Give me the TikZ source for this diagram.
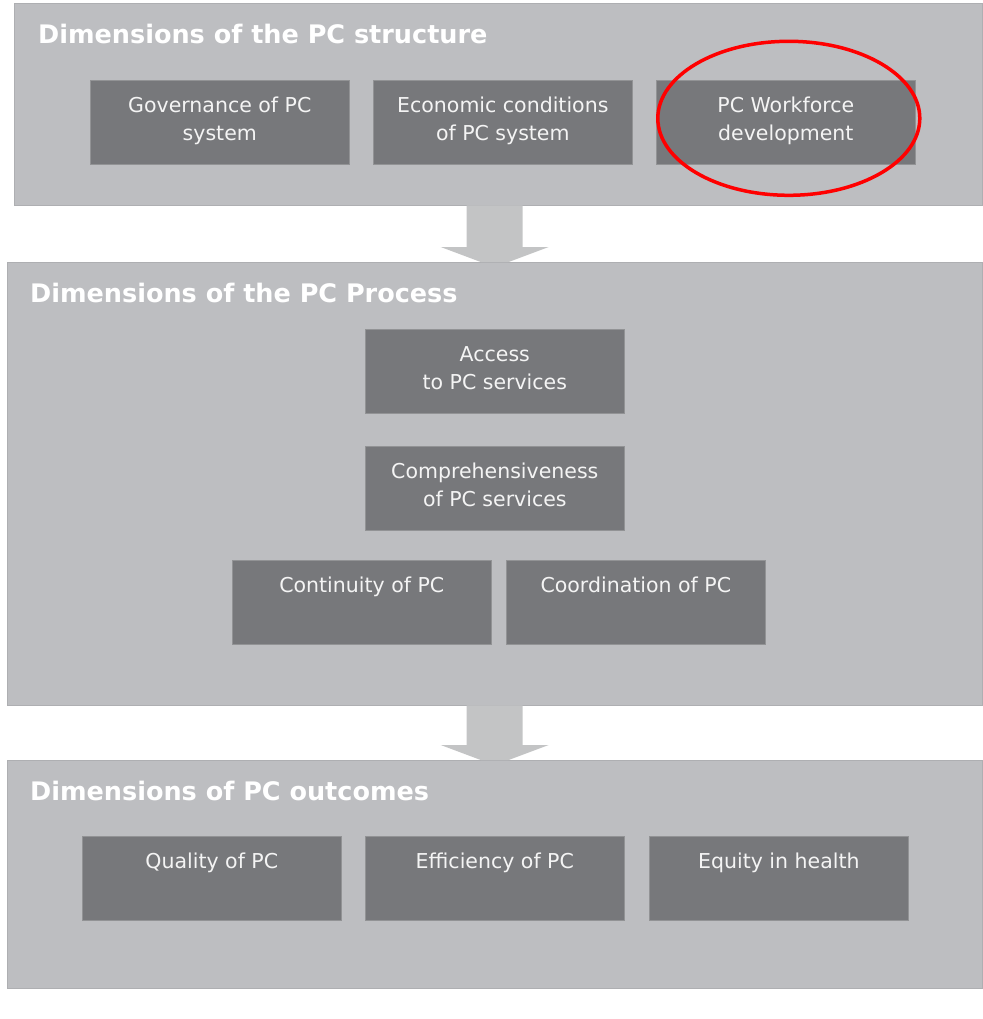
\documentclass[tikz,border=0pt]{standalone}
\usepackage{fontspec}
\setmainfont{DejaVu Sans}
\usetikzlibrary{positioning,calc}
\definecolor{panelgray}{HTML}{BDBEC1}
\definecolor{boxgray}{HTML}{77787B}
\definecolor{flowgray}{HTML}{C3C4C5}
\definecolor{boxink}{HTML}{F4F4F4}
\definecolor{markred}{HTML}{FF0000}

\begin{document}
\begin{tikzpicture}[
    x=1pt, y=-1pt,
    panel/.style={rectangle, fill=panelgray, draw=panelgray!92!black, line width=0.4pt,
                  inner sep=0pt, anchor=north west},
    dimbox/.style={rectangle, fill=boxgray, draw=boxgray!80!white, line width=0.6pt,
                   minimum width=259pt, minimum height=84pt, inner sep=0pt, anchor=north west},
    boxlabel/.style={anchor=north, inner sep=0pt, align=center, text=boxink,
                     font=\fontsize{20.5}{28}\selectfont},
    paneltitle/.style={anchor=north west, inner sep=0pt, text=white,
                       font=\fontsize{25.5}{30}\selectfont\bfseries},
    flow/.style={fill=flowgray},
    ring/.style={draw=markred, line width=3.5pt}
  ]

\useasboundingbox (0,0) rectangle (982,1019);

% ---------------- panels ----------------
\node[panel, minimum width=968pt, minimum height=202pt] (pstruct) at (14,3) {};
\node[panel, minimum width=975pt, minimum height=443pt] (pproc) at (7,262) {};
\node[panel, minimum width=975pt, minimum height=228pt] (pout) at (7,760) {};

\node[paneltitle] (tstruct) at ($(pstruct.north west)+(24,21)$) {Dimensions of the PC structure};
\node[paneltitle] (tproc) at ($(pproc.north west)+(23,21)$) {Dimensions of the PC Process};
\node[paneltitle] (tout) at ($(pout.north west)+(23,21)$) {Dimensions of PC outcomes};

% ---------------- block arrows between panels ----------------
\newcommand{\flowarrow}[2]{% upper panel, lower panel
  \fill[flow] ($(#2.north |- #1.south)+(-28,0)$) -- ($(#2.north |- #1.south)+(28,0)$)
    -- ($(#2.north)+(28,-15)$) -- ($(#2.north)+(54,-15)$) -- ($(#2.north)+(14,0)$)
    -- ($(#2.north)+(-14,0)$) -- ($(#2.north)+(-54,-15)$) -- ($(#2.north)+(-28,-15)$) -- cycle;
}
\flowarrow{pstruct}{pproc}
\flowarrow{pproc}{pout}

% ---------------- dimension boxes ----------------
\newcommand{\dimension}[4]{% name, left x, top y, text
  \node[dimbox] (#1) at (#2,#3) {};
  \node[boxlabel] (#1-t) at ($(#1.north)+(0,17)$) {#4};
}
\dimension{gov}{90}{80}{Governance of PC\\system}
\dimension{econ}{373}{80}{Economic conditions\\of PC system}
\dimension{work}{656}{80}{PC Workforce\\development}

\dimension{access}{365}{329}{Access\\to PC services}
\dimension{compr}{365}{446}{Comprehensiveness\\of PC services}
\dimension{contin}{232}{560}{Continuity of PC}
\dimension{coord}{506}{560}{Coordination of PC}

\dimension{qual}{82}{836}{Quality of PC}
\dimension{effic}{365}{836}{Efficiency of PC}
\dimension{equity}{649}{836}{Equity in health}

% ---------------- highlight ----------------
\draw[ring] ($(work.center)+(3,-4)$) ellipse [x radius=131, y radius=77];

\end{tikzpicture}
\end{document}
